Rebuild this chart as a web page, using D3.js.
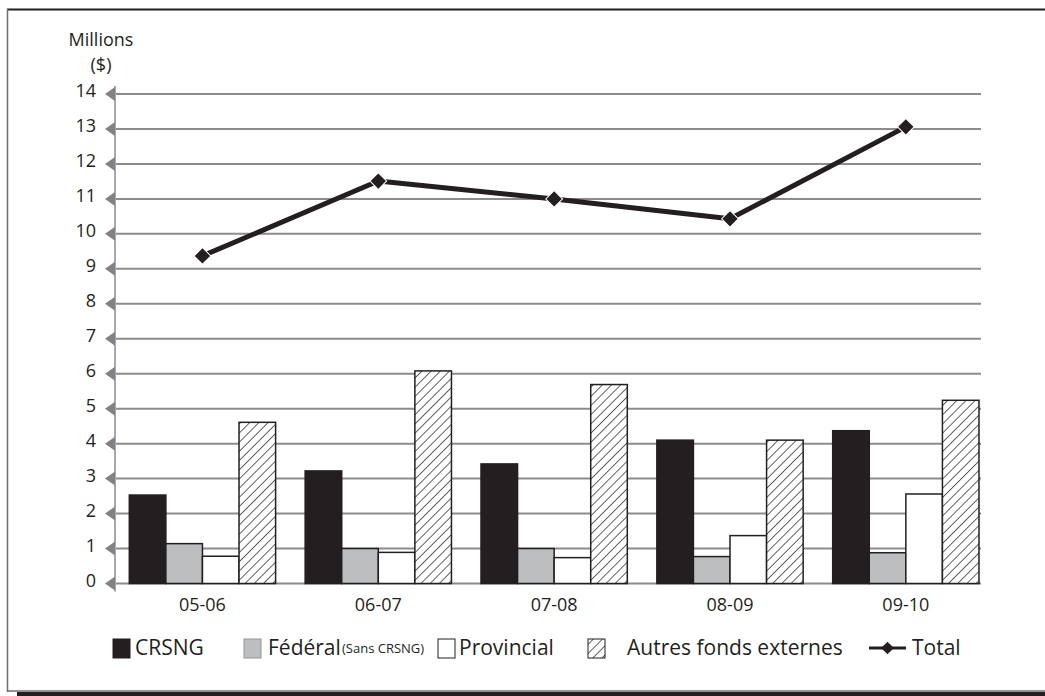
<!DOCTYPE html>
<html>
<head>
<meta charset="utf-8">
<script src="https://cdn.jsdelivr.net/npm/d3@7"></script>
<style>
  html, body { margin: 0; padding: 0; background: #fff; }
  svg { display: block; font-family: "Open Sans", "Noto Sans", sans-serif; }
</style>
</head>
<body>
<svg id="chart" width="1045" height="696"></svg>
<script>
// Funding by source, in millions of dollars
const years = ["05-06", "06-07", "07-08", "08-09", "09-10"];
const crsng = [2.53, 3.22, 3.42, 4.10, 4.37];
const federal = [1.14, 1.00, 1.00, 0.77, 0.88];
const provincial = [0.78, 0.89, 0.74, 1.37, 2.56];
const autres = [4.61, 6.08, 5.69, 4.10, 5.24];
const total = [9.37, 11.51, 11.00, 10.43, 13.06];
const yTicks = [0, 1, 2, 3, 4, 5, 6, 7, 8, 9, 10, 11, 12, 13, 14];

const seriesKeys = ["crsng", "federal", "provincial", "autres"];
const seriesValues = { crsng, federal, provincial, autres };

const ink = "#231f20";
const grid = "#8c8c8c";

const svg = d3.select("#chart");

// hatch pattern for "Autres fonds externes"
const defs = svg.append("defs");
const pat = defs.append("pattern")
  .attr("id", "hatch")
  .attr("patternUnits", "userSpaceOnUse")
  .attr("width", 6.5).attr("height", 6.5)
  .attr("patternTransform", "rotate(45)");
pat.append("rect").attr("width", 6.5).attr("height", 6.5).attr("fill", "#fff");
pat.append("line").attr("x1", 0).attr("y1", 0).attr("x2", 0).attr("y2", 6.5)
  .attr("stroke", ink).attr("stroke-width", 1.4);

const fills = { crsng: ink, federal: "#bcbec0", provincial: "#ffffff", autres: "url(#hatch)" };

// outer frame
svg.append("line").attr("x1", 7).attr("x2", 1045).attr("y1", 9.5).attr("y2", 9.5)
  .attr("stroke", ink).attr("stroke-width", 2);
svg.append("line").attr("x1", 7.5).attr("x2", 7.5).attr("y1", 9).attr("y2", 692)
  .attr("stroke", "#6d6e71").attr("stroke-width", 1.5);
svg.append("line").attr("x1", 7).attr("x2", 1045).attr("y1", 691).attr("y2", 691)
  .attr("stroke", "#6d6e71").attr("stroke-width", 1.5);
svg.append("rect").attr("x", 17).attr("y", 692).attr("width", 1028).attr("height", 4)
  .attr("fill", ink);

// scales
const left = 115, right = 981;
const y = d3.scaleLinear().domain([0, 14]).range([583.5, 94]);
const x = d3.scaleBand().domain(years).range([129.3, 979]).paddingInner(0.168).paddingOuter(0);
const xs = d3.scaleBand().domain(seriesKeys).range([0, x.bandwidth()]).padding(0);

// gridlines
svg.append("g").selectAll("line").data(yTicks).join("line")
  .attr("x1", left).attr("x2", right)
  .attr("y1", d => y(d)).attr("y2", d => y(d))
  .attr("stroke", grid).attr("stroke-width", 2);

// y axis line
svg.append("line").attr("x1", left).attr("x2", left)
  .attr("y1", y(14) - 8).attr("y2", y(0) + 8)
  .attr("stroke", "#a7a9ac").attr("stroke-width", 2);

// tick arrows and labels
const tk = svg.append("g").selectAll("g").data(yTicks).join("g")
  .attr("transform", d => `translate(0,${y(d)})`);
tk.append("path").attr("d", `M${left - 10},0 L${left},-7 L${left},7 Z`).attr("fill", "#808285");
tk.append("text").attr("x", 96).attr("y", -3).attr("dy", "0.35em").attr("text-anchor", "end")
  .attr("font-size", 18).attr("fill", ink).text(d => d);

// axis title
svg.append("text").attr("x", 101).attr("y", 46).attr("text-anchor", "middle")
  .attr("font-size", 18).attr("fill", ink).text("Millions");
svg.append("text").attr("x", 101).attr("y", 71).attr("text-anchor", "middle")
  .attr("font-size", 18).attr("fill", ink).text("($)");

// bars
const groups = svg.append("g").selectAll("g").data(years).join("g")
  .attr("transform", d => `translate(${x(d)},0)`);
groups.selectAll("rect")
  .data((d, i) => seriesKeys.map(k => ({ key: k, value: seriesValues[k][i] })))
  .join("rect")
  .attr("x", d => xs(d.key))
  .attr("width", xs.bandwidth())
  .attr("y", d => y(d.value))
  .attr("height", d => y(0) - y(d.value))
  .attr("fill", d => fills[d.key])
  .attr("stroke", ink).attr("stroke-width", 1.5);

// category labels
svg.append("g").selectAll("text").data(years).join("text")
  .attr("x", d => x(d) + x.bandwidth() / 2).attr("y", 611)
  .attr("text-anchor", "middle").attr("font-size", 18).attr("fill", ink)
  .text(d => d);

// total line
const cx = (d, i) => x(years[i]) + x.bandwidth() / 2;
svg.append("path")
  .attr("d", d3.line().x((d, i) => cx(d, i)).y(d => y(d))(total))
  .attr("fill", "none").attr("stroke", ink).attr("stroke-width", 5)
  .attr("stroke-linejoin", "round");
svg.append("g").selectAll("path").data(total).join("path")
  .attr("transform", (d, i) => `translate(${cx(d, i)},${y(d)}) rotate(45)`)
  .attr("d", d3.symbol().type(d3.symbolSquare).size(140)())
  .attr("fill", ink).attr("stroke", "#fff").attr("stroke-width", 1);

// legend
const ly = 648;
const lg = svg.append("g");
const swatch = (xx, fill) => lg.append("rect").attr("x", xx).attr("y", ly - 9)
  .attr("width", 17).attr("height", 19).attr("fill", fill)
  .attr("stroke", fill === "#bcbec0" ? "#939598" : ink).attr("stroke-width", 1);
const ltext = (xx, t, size) => lg.append("text").attr("x", xx).attr("y", ly).attr("dy", "0.35em")
  .attr("font-size", size || 21).attr("fill", ink).text(t);

swatch(113, fills.crsng);
ltext(135, "CRSNG");
swatch(244, fills.federal);
ltext(268, "Fédéral");
ltext(342, "(Sans CRSNG)", 13);
swatch(438, fills.provincial);
ltext(459, "Provincial");
swatch(588, fills.autres);
ltext(627, "Autres fonds externes");
lg.append("line").attr("x1", 869).attr("x2", 906).attr("y1", ly).attr("y2", ly)
  .attr("stroke", ink).attr("stroke-width", 3);
lg.append("path").attr("transform", `translate(887.5,${ly}) rotate(45)`)
  .attr("d", d3.symbol().type(d3.symbolSquare).size(80)())
  .attr("fill", ink);
ltext(912, "Total");
</script>
</body>
</html>
